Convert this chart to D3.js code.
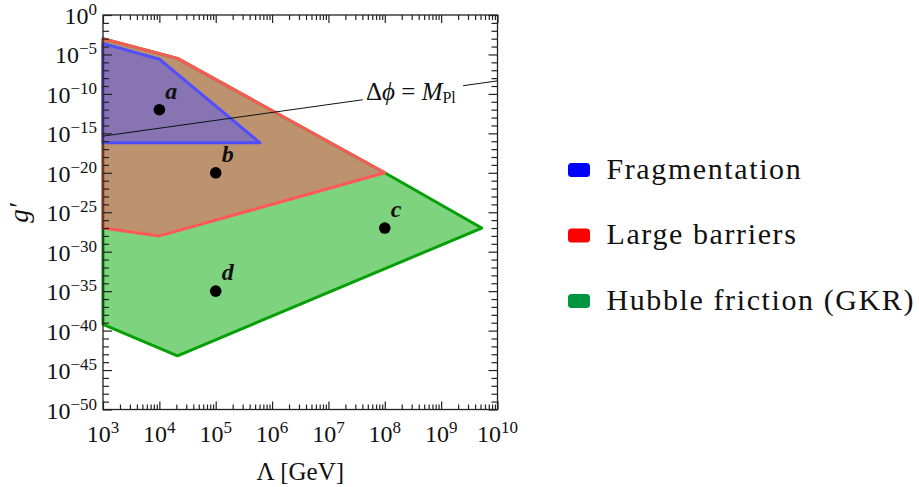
<!DOCTYPE html>
<html>
<head>
<meta charset="utf-8">
<script src="https://cdn.jsdelivr.net/npm/d3@7"></script>
<style>
  html, body { margin: 0; padding: 0; background: #fff; }
  svg { display: block; }
  text { font-family: "Liberation Serif", "DejaVu Serif", serif; fill: #111; }
</style>
</head>
<body>
<svg id="chart" width="919" height="487"></svg>
<script>
// Λ [GeV] vs g' exclusion regions
const xTickExponents = [3, 4, 5, 6, 7, 8, 9, 10];
const yTickExponents = [0, -5, -10, -15, -20, -25, -30, -35, -40, -45, -50];

// Region boundaries: [Λ in GeV, g']
const hubbleFriction = [
  [1e3, 1e-3], [2.1e4, Math.pow(10, -5.5)], [1e8, 1e-20],
  [5.25e9, 1e-27], [2.1e4, Math.pow(10, -43.2)], [1e3, Math.pow(10, -39.2)]
];
const largeBarriers = [
  [1e3, 1e-3], [2.1e4, Math.pow(10, -5.5)], [1e8, 1e-20],
  [1e4, 1e-28], [1e3, 1e-27]
];
const fragmentation = [
  [1e3, Math.pow(10, -3.6)], [1e4, Math.pow(10, -5.6)],
  [6.1e5, Math.pow(10, -16.2)], [1e3, Math.pow(10, -16.2)]
];

// Δφ = M_Pl line, drawn in two pieces around its label
const planckLineSegments = [
  [[1e3, Math.pow(10, -15.35)], [Math.pow(10, 7.61), Math.pow(10, -10.74)]],
  [[Math.pow(10, 9.39), Math.pow(10, -8.96)], [1e10, Math.pow(10, -8.35)]]
];

// Benchmark points
const pointNames = ["a", "b", "c", "d"];
const pointLambda = [1e4, 1e5, 1e8, 1e5];
const pointCoupling = [1e-12, 1e-20, 1e-27, 1e-35];

const legendLabels = ["Fragmentation", "Large barriers", "Hubble friction (GKR)"];
const legendColors = ["#0000ff", "#ff0000", "#009640"];

const svg = d3.select("#chart");
const plotLeft = 103, plotRight = 497.5, plotTop = 15, plotBottom = 409.5;

const x = d3.scaleLog().domain([1e3, 1e10]).range([plotLeft, plotRight]);
const y = d3.scaleLog().domain([1e-50, 1]).range([plotBottom, plotTop]);

const line = d3.line().x(d => x(d[0])).y(d => y(d[1]));
const closed = d => line(d) + "Z";

// Regions: green underneath, then red, then blue
const regions = [
  { data: hubbleFriction, fill: "#7ed37e", stroke: "#06a006" },
  { data: largeBarriers, fill: "#bd926e", stroke: "#ff5858" },
  { data: fragmentation, fill: "#8873b3", stroke: "#4f4fff" }
];
regions.forEach(r => {
  svg.append("path").attr("d", closed(r.data))
    .attr("fill", r.fill).attr("stroke", "none");
});
regions.forEach(r => {
  svg.append("path").attr("d", closed(r.data))
    .attr("fill", "none").attr("stroke", r.stroke)
    .attr("stroke-width", 3).attr("stroke-linejoin", "round");
});

// Δφ = M_Pl line
planckLineSegments.forEach(seg => {
  svg.append("path").attr("d", line(seg))
    .attr("fill", "none").attr("stroke", "#111").attr("stroke-width", 1);
});
const pl = svg.append("text").attr("x", 366).attr("y", 100).attr("font-size", 25);
pl.append("tspan").text("Δ");
pl.append("tspan").attr("font-style", "italic").text("ϕ");
pl.append("tspan").text(" = ");
pl.append("tspan").attr("font-style", "italic").text("M");
pl.append("tspan").attr("font-size", 16).attr("dy", 3).text("Pl");

// Benchmark points
pointNames.forEach((n, i) => {
  const px = x(pointLambda[i]), py = y(pointCoupling[i]);
  svg.append("circle").attr("cx", px).attr("cy", py).attr("r", 5.8).attr("fill", "#000");
  svg.append("text").attr("x", px + 6).attr("y", py - 11)
    .attr("font-size", 24).attr("font-style", "italic").attr("font-weight", "bold")
    .text(n);
});

// Frame
svg.append("rect").attr("x", plotLeft).attr("y", plotTop)
  .attr("width", plotRight - plotLeft).attr("height", plotBottom - plotTop)
  .attr("fill", "none").attr("stroke", "#222").attr("stroke-width", 1.3);

// Ticks (inward on all four sides)
const xMajor = xTickExponents.map(e => Math.pow(10, e));
const xMinor = [];
for (let e = 3; e < 10; e++) for (let k = 2; k <= 9; k++) xMinor.push(k * Math.pow(10, e));
const yMajor = yTickExponents.map(e => Math.pow(10, e));
const yMinor = d3.range(-49, 0).filter(e => e % 5 !== 0).map(e => Math.pow(10, e));

const clean = g => {
  g.select(".domain").remove();
  g.selectAll("text").remove();
  g.selectAll("line").attr("stroke", "#222").attr("stroke-width", 1.2);
};

[[d3.axisBottom, plotBottom], [d3.axisTop, plotTop]].forEach(([ax, pos]) => {
  svg.append("g").attr("transform", `translate(0,${pos})`)
    .call(ax(x).tickValues(xMajor).tickSize(-8).tickSizeOuter(0)).call(clean);
  svg.append("g").attr("transform", `translate(0,${pos})`)
    .call(ax(x).tickValues(xMinor).tickSize(-5).tickSizeOuter(0)).call(clean);
});
[[d3.axisLeft, plotLeft], [d3.axisRight, plotRight]].forEach(([ax, pos]) => {
  svg.append("g").attr("transform", `translate(${pos},0)`)
    .call(ax(y).tickValues(yMajor).tickSize(-9).tickSizeOuter(0)).call(clean);
  svg.append("g").attr("transform", `translate(${pos},0)`)
    .call(ax(y).tickValues(yMinor).tickSize(-6).tickSizeOuter(0)).call(clean);
});

// Tick labels with superscript exponents
xTickExponents.forEach(e => {
  const t = svg.append("text").attr("x", x(Math.pow(10, e))).attr("y", plotBottom + 32)
    .attr("text-anchor", "middle").attr("font-size", 24);
  t.append("tspan").text("10");
  t.append("tspan").attr("font-size", 17).attr("dy", -9).text(e);
});
yTickExponents.forEach(e => {
  const t = svg.append("text").attr("x", plotLeft - 6).attr("y", y(Math.pow(10, e)) + 9)
    .attr("text-anchor", "end").attr("font-size", 24);
  t.append("tspan").text("10");
  t.append("tspan").attr("font-size", 17).attr("dy", -9).text(e === 0 ? "0" : "\u2212" + (-e));
});

// Axis titles
svg.append("text").attr("x", (plotLeft + plotRight) / 2).attr("y", 480)
  .attr("text-anchor", "middle").attr("font-size", 25).text("Λ [GeV]");
svg.append("text").attr("transform", "translate(28,213) rotate(-90)")
  .attr("text-anchor", "middle").attr("font-size", 27).attr("font-style", "italic").text("g′");

// Legend
legendLabels.forEach((lab, i) => {
  const cy = 170 + i * 65.5;
  svg.append("rect").attr("x", 568).attr("y", cy - 7).attr("width", 22).attr("height", 14)
    .attr("rx", 3.5).attr("fill", legendColors[i]);
  svg.append("text").attr("x", 606.5).attr("y", cy + 8.5)
    .attr("font-size", 30).attr("letter-spacing", "1.6px").text(lab);
});
</script>
</body>
</html>
